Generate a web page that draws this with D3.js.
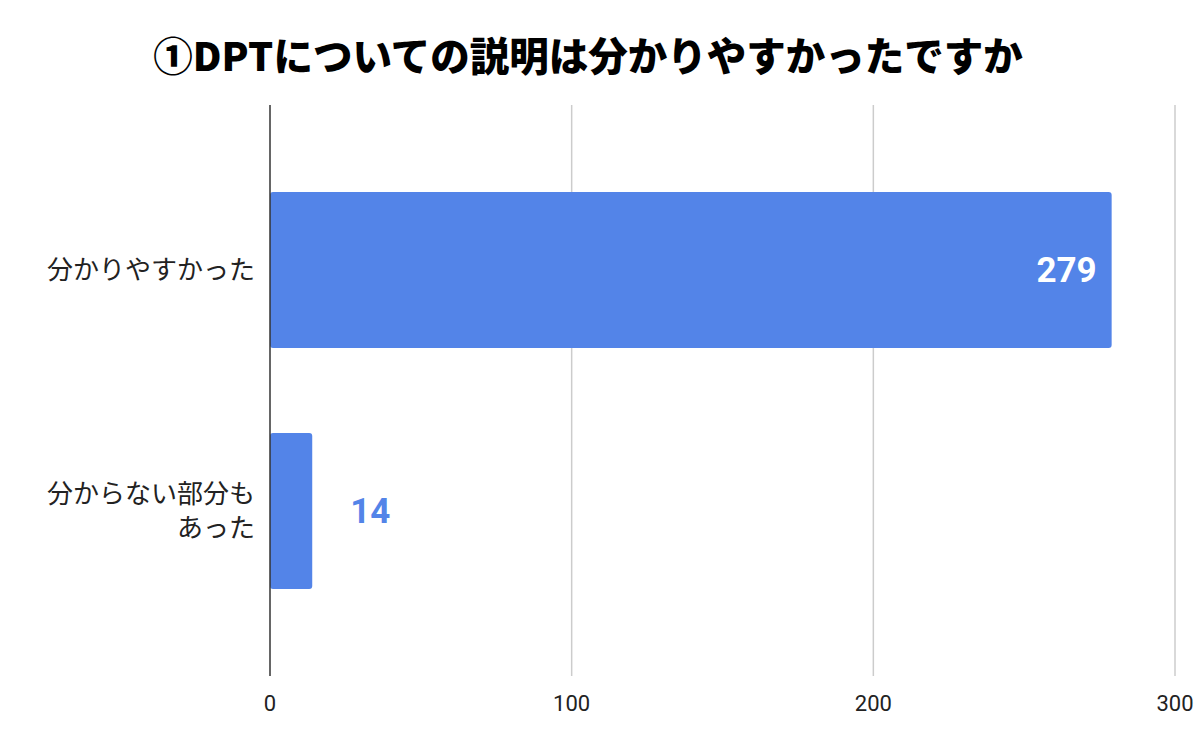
<!DOCTYPE html>
<html><head><meta charset="utf-8">
<script src="https://cdn.jsdelivr.net/npm/d3@7"></script>
<style>
html,body{margin:0;padding:0;background:#fff;}
text{font-family:Roboto,"Noto Sans CJK JP",sans-serif;}
</style></head>
<body><svg id="c" width="1196" height="741"></svg>
<script>
const title = "①DPTについての説明は分かりやすかったですか";
const categories = [["分かりやすかった"], ["分からない部分も", "あった"]];
const values = [279, 14];
const ticks = [0, 100, 200, 300];

const svg = d3.select("#c");
const x = d3.scaleLinear().domain([0, 300]).range([270, 1175]);
const y = d3.scaleBand().domain(d3.range(categories.length)).range([105, 676]).paddingInner(0.353).paddingOuter(0.361);

svg.append("text").attr("x", 588).attr("y", 71).attr("text-anchor", "middle")
  .attr("font-size", 39.5).attr("font-weight", 900).attr("fill", "#000")
  .style("font-family", "'Noto Sans CJK JP',sans-serif").text(title);

// gridlines
svg.append("g").selectAll("line").data(ticks.filter(t => t > 0)).join("line")
  .attr("x1", d => x(d)).attr("x2", d => x(d)).attr("y1", 105).attr("y2", 676)
  .attr("stroke", "#cccccc").attr("stroke-width", 1.5);

// bars
svg.append("g").selectAll("rect").data(values).join("rect")
  .attr("x", x(0)).attr("y", (d, i) => y(i)).attr("width", d => x(d) - x(0))
  .attr("height", y.bandwidth()).attr("rx", 3).attr("fill", "#5384e8");

// zero axis
svg.append("line").attr("x1", x(0)).attr("x2", x(0)).attr("y1", 105).attr("y2", 676)
  .attr("stroke", "#333").attr("stroke-width", 1.5);

// tick labels
svg.append("g").selectAll("text").data(ticks).join("text")
  .attr("x", d => x(d)).attr("y", 711).attr("text-anchor", "middle")
  .attr("font-size", 22).attr("fill", "#222").text(d => d);

// category labels
categories.forEach((lines, i) => {
  const cy = y(i) + y.bandwidth() / 2;
  const lh = 34;
  const t = svg.append("text").attr("text-anchor", "end").attr("font-size", 26).attr("fill", "#222")
    .style("font-family", "'Noto Sans CJK JP',sans-serif");
  lines.forEach((l, j) => {
    t.append("tspan").attr("x", 255).attr("y", cy + 9 + (j - (lines.length - 1) / 2) * lh).text(l);
  });
});

// value labels
values.forEach((v, i) => {
  const cy = y(i) + y.bandwidth() / 2;
  const inside = (x(v) - x(0)) > 100;
  svg.append("text")
    .attr("x", inside ? x(v) - 15 : x(v) + 38)
    .attr("y", cy + 12)
    .attr("text-anchor", inside ? "end" : "start")
    .attr("font-size", 35).attr("font-weight", "bold")
    .attr("fill", inside ? "#ffffff" : "#5384e8").text(v);
});
</script></body></html>
